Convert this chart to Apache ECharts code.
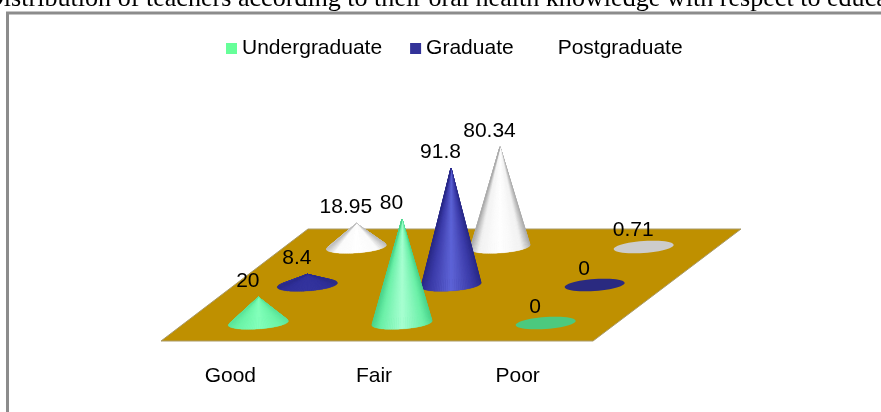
<!DOCTYPE html>
<html>
<head>
<meta charset="utf-8">
<style>html,body{margin:0;padding:0;background:#fff;overflow:hidden}#chart{width:881px;height:412px}</style>
<script src="https://cdn.jsdelivr.net/npm/echarts@6/dist/echarts.min.js"></script>
</head>
<body>
<div id="chart"></div>
<script>
// Oral health knowledge of teachers by education level
const heading = 'Distribution of teachers according to their oral health knowledge with respect to education';
const categories = ['Good', 'Fair', 'Poor'];
const undergraduate = [20, 80, 0];
const graduate = [8.4, 91.8, 0];
const postgraduate = [18.95, 80.34, 0.71];

// Cone appearance for each row of the floor, front to back
const rows = [
  { name: 'Undergraduate', values: undergraduate, swatch: '#66FF99', flat: '#4CC97E', scale: 1.015,
    tall: ['#4CD48C', '#6CF0A8', '#A8FFD2'], low: ['#5CE49A', '#6CF4A8', '#84FFBC'] },
  { name: 'Graduate', values: graduate, swatch: '#333399', flat: '#2A2A80', scale: 0.995,
    tall: ['#2A2A88', '#3A3AA6', '#5F65D8'], low: ['#2C2C8C', '#31319A', '#34349E'] },
  { name: 'Postgraduate', values: postgraduate, swatch: '#FFFFFF', flat: '#CCCCCC', scale: 0.975,
    tall: ['#ABABAB', '#F2F2F2', '#FFFFFF'], low: ['#BCBCBC', '#FAFAFA', '#FFFFFF'] }
];

const FONT = '"Liberation Sans", Arial, sans-serif';
const FONT_SIZE = 21;
const RADIUS = 30, RY = 6, TILT = 0.07;
const ROW_DX = 49, ROW_DY = 38, FRONT_DX = 28, FRONT_DY = 18;
const FACETS = 48;

function ellipsePoint(cx, cy, t) {
  const c = Math.cos(t), s = Math.sin(t);
  return [cx + RADIUS * c, cy - TILT * RADIUS * c + RY * s];
}

function hexToRgb(hex) {
  return [1, 3, 5].map(i => parseInt(hex.substr(i, 2), 16));
}

// Shade across the cone: edge at u=0 and u=1, highlight at u=0.5
function shadeAt(stops, u) {
  const d = Math.abs(u - 0.5) * 2;
  const knee = 0.72;
  const pair = d > knee ? [stops[1], stops[0], (d - knee) / (1 - knee)] : [stops[2], stops[1], d / knee];
  const a = hexToRgb(pair[0]), b = hexToRgb(pair[1]);
  const mix = a.map((v, i) => Math.round(v + (b[i] - v) * pair[2]));
  return 'rgb(' + mix.join(',') + ')';
}

function coneRenderer(rowIndex) {
  const row = rows[rowIndex];
  return function (params, api) {
    const value = api.value(1);
    const base = api.coord([api.value(0), 0]);
    const cx = base[0] + FRONT_DX + ROW_DX * rowIndex;
    const cy = base[1] - FRONT_DY - ROW_DY * rowIndex;
    const h = api.size([0, value])[1] * row.scale;
    const children = [];

    if (h < 2) {
      const full = [];
      for (let i = 0; i < FACETS; i++) full.push(ellipsePoint(cx, cy, (i / FACETS) * Math.PI * 2));
      children.push({ type: 'polygon', shape: { points: full }, style: { fill: row.flat } });
    } else {
      const stops = h < 40 ? row.low : row.tall;
      const apex = [cx, cy - h];
      // Solid underlay keeps the floor from showing through facet seams
      const outline = [apex];
      for (let i = 0; i <= FACETS; i++) outline.push(ellipsePoint(cx, cy, Math.PI - (i / FACETS) * Math.PI));
      children.push({ type: 'polygon', shape: { points: outline }, style: { fill: stops[1] } });
      // Back half of the rim first, then the visible front facets
      for (let pass = 0; pass < 2; pass++) {
        for (let i = 0; i < FACETS; i++) {
          const from = (pass === 0 ? Math.PI : 0) + (i / FACETS) * Math.PI;
          const to = (pass === 0 ? Math.PI : 0) + ((i + 1) / FACETS) * Math.PI;
          const u = (Math.cos((from + to) / 2) + 1) / 2;
          const color = shadeAt(stops, u);
          children.push({
            type: 'polygon',
            shape: { points: [apex, ellipsePoint(cx, cy, from), ellipsePoint(cx, cy, to)] },
            style: { fill: color, stroke: color, lineWidth: 0.3 }
          });
        }
      }
    }
    children.push({
      type: 'text',
      x: cx - 10.5,
      y: cy - h - 16,
      style: { text: String(value), font: FONT_SIZE + 'px ' + FONT, fill: '#000', align: 'center', verticalAlign: 'middle' }
    });
    return { type: 'group', children };
  };
}

function floorRenderer(params, api) {
  const g = params.coordSys;
  const left = g.x + 2.5, right = left + 432, front = g.y + g.height;
  return {
    type: 'polygon',
    shape: { points: [[left, front], [right, front], [right + 148, front - 112], [left + 147, front - 112]] },
    style: { fill: '#BF9000', stroke: '#A99A68', lineWidth: 1 }
  };
}

const coneSeries = rows.map((row, i) => ({
  type: 'custom',
  name: row.name,
  coordinateSystem: 'cartesian2d',
  z: 10 - i,
  itemStyle: { color: row.swatch },
  renderItem: coneRenderer(i),
  encode: { x: 0, y: 1 },
  data: row.values.map((v, k) => [k, v])
}));

const chart = echarts.init(document.getElementById('chart'), null, { renderer: 'canvas' });
chart.setOption({
  animation: false,
  backgroundColor: '#fff',
  title: {
    text: heading,
    left: -20, top: -19,
    textStyle: { fontFamily: '"Liberation Serif", "Times New Roman", serif', fontSize: 26.1, fontWeight: 'normal', color: '#000' }
  },
  graphic: [{
    type: 'rect', z: -1, silent: true,
    shape: { x: 7.5, y: 13, width: 900, height: 430 },
    style: { fill: '#fff', stroke: '#8C8C8C', lineWidth: 3 }
  }],
  legend: {
    data: rows.map(r => r.name),
    left: 221, top: 33,
    icon: 'rect', itemWidth: 11, itemHeight: 11, itemGap: 28,
    textStyle: { fontFamily: FONT, fontSize: FONT_SIZE, color: '#000' }
  },
  grid: { left: 158.5, width: 431, top: 85, height: 256 },
  xAxis: {
    type: 'category', data: categories,
    axisLine: { show: false }, axisTick: { show: false },
    axisLabel: { margin: 25, fontFamily: FONT, fontSize: FONT_SIZE, color: '#000' }
  },
  yAxis: { type: 'value', min: 0, max: 200, show: false },
  series: [
    { type: 'custom', coordinateSystem: 'cartesian2d', z: 1, silent: true, renderItem: floorRenderer, data: [[0, 0]] }
  ].concat(coneSeries)
});
</script>
</body>
</html>
